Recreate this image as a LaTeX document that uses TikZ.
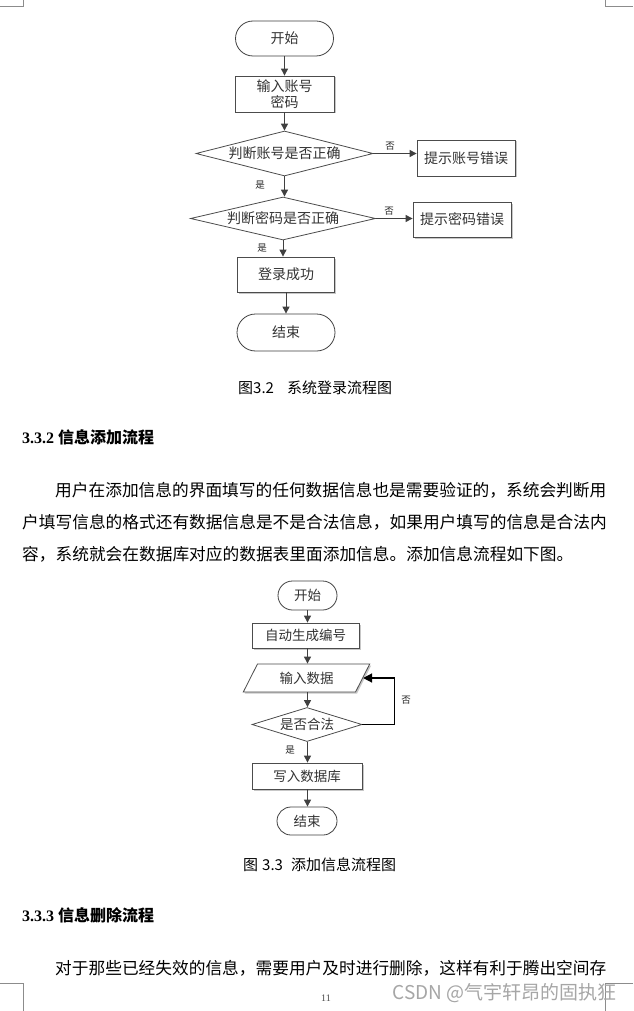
\documentclass[tikz,border=0pt]{standalone}
\usepackage{fontspec}
\setmainfont{Liberation Serif}
\newfontfamily\cjk{Noto Sans CJK SC}
\usetikzlibrary{shapes.geometric,shapes.misc,arrows.meta,shadows}
\tikzset{
  every node/.style={inner sep=0pt},
  fa/.style={font=\cjk\fontsize{14}{16}\selectfont, text=black!80},
  fb/.style={font=\cjk\fontsize{13.5}{15}\selectfont, text=black!80},
  term/.style={rounded rectangle, draw=black!75, line width=0.8pt, fill=white},
  proc/.style={rectangle, draw=black!70, line width=0.8pt, fill=white,
    drop shadow={shadow xshift=1.5pt, shadow yshift=-1.5pt, fill=black!22, opacity=1}},
  dec/.style={diamond, draw=black!70, line width=0.8pt, fill=white},
  io/.style={trapezium, trapezium left angle=58, trapezium right angle=122,
    trapezium stretches=true, draw=black!70,
    line width=0.8pt, fill=white,
    drop shadow={shadow xshift=1.5pt, shadow yshift=-1.5pt, fill=black!22, opacity=1}},
  flow/.style={draw=black!75, line width=1pt, -{Triangle[length=7pt,width=7pt]}},
  loopline/.style={draw=black, line width=1.4pt, -{Triangle[length=9pt,width=9pt]}},
  yn/.style={font=\cjk\fontsize{9.5}{9.5}\selectfont, text=black!85},
  body/.style={font=\cjk\fontsize{16.7}{16.7}\selectfont, anchor=west},
  head/.style={anchor=west},
  figcap/.style={font=\cjk\fontsize{15}{15}\selectfont, anchor=west},
  pagemark/.style={draw=black!45, line width=0.6pt},
}
\begin{document}
\begin{tikzpicture}[x=1pt,y=-1pt]
\useasboundingbox[fill=white] (0,0) rectangle (633,1011);

% corner marks
\draw[pagemark] (0,6) -- (23,6) -- (23,0);
\draw[pagemark] (605,0) -- (605,6) -- (633,6);
\draw[pagemark] (0,983) -- (23,983) -- (23,1011);
\draw[pagemark] (633,983) -- (605,983) -- (605,1011);

% ---------------- chart 1 ----------------
\node[term, fa, minimum width=98pt, minimum height=35pt] (s1) at (284.5,38.5) {开始};
\node[proc, fa, minimum width=99pt, minimum height=36pt, align=center] (i1) at (284.5,94) {输入账号\\密码};
\node[dec, fa, aspect=3.9, minimum width=177pt, minimum height=45pt] (d1) at (284.5,153.5) {判断账号是否正确};
\node[proc, fa, minimum width=98pt, minimum height=36pt] (e1) at (466,158) {提示账号错误};
\node[dec, fa, aspect=4.3, minimum width=185pt, minimum height=43pt] (d2) at (283,218.5) {判断密码是否正确};
\node[proc, fa, minimum width=98pt, minimum height=35pt] (e2) at (462,219.5) {提示密码错误};
\node[proc, fa, minimum width=97pt, minimum height=35pt] (ok) at (286,274.5) {登录成功};
\node[term, fa, minimum width=98pt, minimum height=37pt] (t1) at (286,332.5) {结束};

\draw[flow] (s1.south) -- (i1.north);
\draw[flow] (i1.south) -- (d1.north);
\draw[flow] (d1.south) -- (d1.south |- d2.north);
\draw[flow] (d1.east) -- (d1.east -| e1.west);
\draw[flow] (d2.east) -- (d2.east -| e2.west);
\draw[flow] (d2.south) -- (d2.south |- ok.north);
\draw[flow] (ok.south) -- (ok.south |- t1.north);

\node[yn] (n1) at (390,146) {否};
\node[yn] (y1) at (260,185) {是};
\node[yn] (n2) at (389,211) {否};
\node[yn] (y2) at (262,248) {是};

\node[figcap] (c1) at (238,388) {图3.2\hspace{13pt}系统登录流程图};

% ---------------- text ----------------
\node[head] (h1) at (22,437) {\fontsize{16}{16}\selectfont\bfseries 3.3.2 {\cjk 信息添加流程}};
\node[body] (l1) at (55,490) {用户在添加信息的界面填写的任何数据信息也是需要验证的，系统会判断用};
\node[body] (l2) at (22,522) {户填写信息的格式还有数据信息是不是合法信息，如果用户填写的信息是合法内};
\node[body] (l3) at (22,554) {容，系统就会在数据库对应的数据表里面添加信息。添加信息流程如下图。};

% ---------------- chart 2 ----------------
\node[term, fb, minimum width=59pt, minimum height=29pt] (s2) at (307.5,595.5) {开始};
\node[proc, fb, minimum width=107pt, minimum height=25pt] (g2) at (305.5,635.5) {自动生成编号};
\node[io, fb, minimum width=127pt, minimum height=28pt] (p2) at (306.5,678) {输入数据};
\node[dec, fb, aspect=3.2, minimum width=110pt, minimum height=34pt] (d3) at (307,724.5) {是否合法};
\node[proc, fb, minimum width=110pt, minimum height=26pt] (w2) at (307,776) {写入数据库};
\node[term, fb, minimum width=60pt, minimum height=28pt] (t2) at (307,821) {结束};

\draw[flow] (s2.south) -- (s2.south |- g2.north);
\draw[flow] (s2.south |- g2.south) -- (s2.south |- p2.north);
\draw[flow] (s2.south |- p2.south) -- (s2.south |- d3.north);
\draw[flow] (s2.south |- d3.south) -- (s2.south |- w2.north);
\draw[flow] (s2.south |- w2.south) -- (s2.south |- t2.north);
\draw[loopline] (d3.east) -- ++(32,0) |- (p2.east);

\node[yn] (n3) at (406,700) {否};
\node[yn] (y3) at (290,750) {是};

\node[figcap] (c2) at (243,865) {图\hspace{4pt}3.3\hspace{8pt}添加信息流程图};

\node[head] (h2) at (22,915) {\fontsize{16}{16}\selectfont\bfseries 3.3.3 {\cjk 信息删除流程}};
\node[body] (l4) at (55,968) {对于那些已经失效的信息，需要用户及时进行删除，这样有利于腾出空间存};

\node[font=\fontsize{10}{10}\selectfont, text=black!70] (pg) at (326,998) {11};
\node[font=\cjk\fontsize{19}{19}\selectfont, text=black!35, anchor=east] (wm) at (617,993) {CSDN @气宇轩昂的固执狂};
\end{tikzpicture}
\end{document}
